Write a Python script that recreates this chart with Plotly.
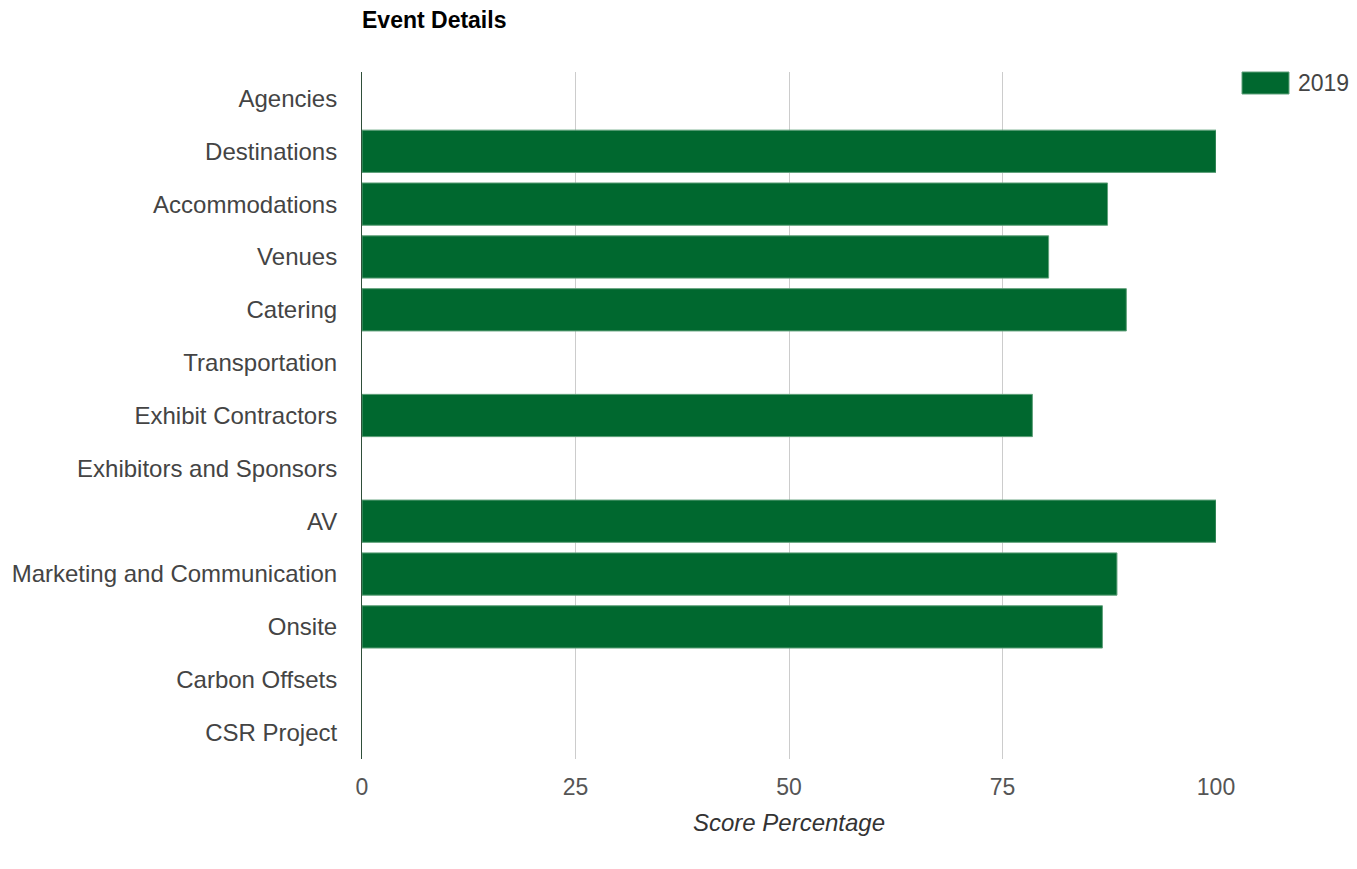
import plotly.graph_objects as go

categories = ["Agencies", "Destinations", "Accommodations", "Venues", "Catering",
              "Transportation", "Exhibit Contractors", "Exhibitors and Sponsors", "AV",
              "Marketing and Communication", "Onsite", "Carbon Offsets", "CSR Project"]
scores_2019 = [None, 100, 87.3, 80.4, 89.5, None, 78.5, None, 100, 88.4, 86.7, None, None]
series_name = "2019"
x_title = "Score Percentage"
x_ticks = [0, 25, 50, 75, 100]

FONT = "Arial, 'Liberation Sans', sans-serif"
GREEN = "#00682f"
W, H = 1341, 853
L, R, T, B = 354, 133, 64, 102
plot_w = W - L - R
plot_h = H - T - B

fig = go.Figure()
fig.add_trace(go.Bar(
    x=scores_2019, y=categories, orientation="h", name=series_name,
    marker=dict(color=GREEN, line=dict(color="#5fa07a", width=1)),
))

# legend swatch and label (Google-Charts style large swatch)
fig.add_shape(type="rect", xref="paper", yref="paper",
              x0=(1234 - L) / plot_w, x1=(1281 - L) / plot_w,
              y0=1 - 22 / plot_h, y1=1.0,
              fillcolor=GREEN, line=dict(color="#5fa07a", width=1))
fig.add_annotation(text=series_name, xref="paper", yref="paper",
                   x=(1288 - L) / plot_w, xanchor="left", y=1 - 11 / plot_h, yanchor="middle",
                   showarrow=False, font=dict(family=FONT, size=23, color="#444444"))

fig.update_layout(
    width=W, height=H,
    paper_bgcolor="white", plot_bgcolor="white",
    margin=dict(l=L, r=R, t=T, b=B, autoexpand=False),
    bargap=0.2,
    showlegend=False,
    font=dict(family=FONT, size=24, color="#444444"),
    title=dict(text="<b>Event Details</b>", x=L / W, xanchor="left", y=1 - 12 / H, yanchor="middle",
               font=dict(family=FONT, size=23, color="#000000")),
    xaxis=dict(range=[0, 100], tickvals=x_ticks, showgrid=True, gridcolor="#cccccc", gridwidth=1,
               zeroline=False, showline=False, ticklabelstandoff=12, automargin=False,
               tickfont=dict(size=23, color="#555555"),
               title=dict(text="<i>" + x_title + "</i>",
                          font=dict(size=24, color="#333333"))),
    yaxis=dict(autorange="reversed", showgrid=False, showline=True, linecolor="#2f4f3a", linewidth=1,
               ticklabelstandoff=19, automargin=False, tickfont=dict(size=24, color="#444444")),
)

fig.write_html("out.html")
